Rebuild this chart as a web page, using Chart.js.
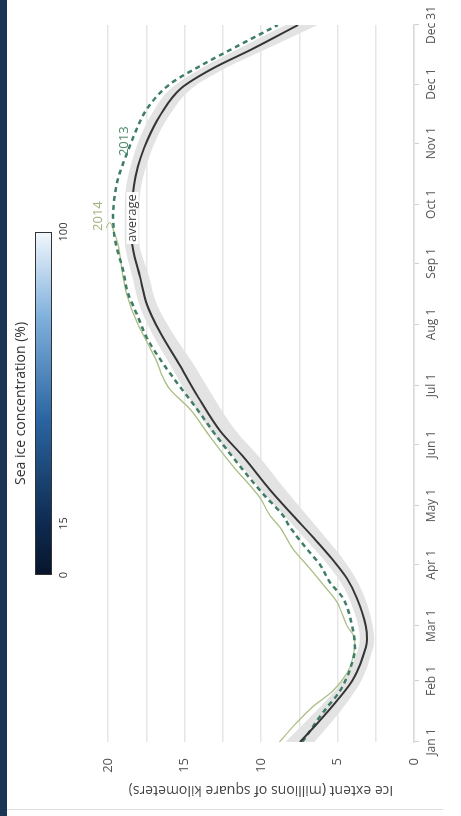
<!DOCTYPE html>
<html>
<head>
<meta charset="utf-8">
<script src="https://cdn.jsdelivr.net/npm/chart.js@4.4.1/dist/chart.umd.min.js"></script>
<style>
  html,body{margin:0;padding:0;background:#fff;overflow:hidden;width:461px;height:816px;}
  #wrap{position:absolute;left:0;top:0;width:816px;height:461px;transform-origin:0 0;transform:translate(0px,816px) rotate(-90deg);}
  #strip{position:absolute;left:0;top:0;width:7px;height:816px;background:#1c3556;}
  #bline{position:absolute;left:7px;top:809px;width:436px;height:1px;background:#dedede;}
</style>
</head>
<body>
<div id="wrap"><canvas id="c" width="816" height="461"></canvas></div>
<div id="strip"></div>
<div id="bline"></div>
<script>
// ---- data (day of year, millions of km²) ----
const monthDays   = [0, 31, 59, 90, 120, 151, 181, 212, 243, 273, 304, 334, 364];
const monthLabels = ['Jan 1','Feb 1','Mar 1','Apr 1','May 1','Jun 1','Jul 1','Aug 1','Sep 1','Oct 1','Nov 1','Dec 1','Dec 31'];

const avgDays = [0, 11, 21, 31, 42, 52, 59, 73, 83, 93, 104, 115, 128, 145, 158, 175, 191, 208, 222, 236, 255, 272, 287, 297, 306, 318, 332, 342, 352, 364];
const avgVals = [7.45, 6.14, 5.03, 4.05, 3.40, 3.07, 3.15, 3.73, 4.38, 5.36, 6.60, 7.91, 9.41, 11.18, 12.68, 14.1, 15.29, 16.6, 17.45, 17.9, 18.43, 18.43, 18.2, 17.85, 17.4, 16.6, 15.2, 13.14, 10.52, 7.58];
const bandLo  = [6.5, 5.3, 4.3, 3.45, 2.9, 2.6, 2.7, 3.2, 3.8, 4.65, 5.8, 7.0, 8.4, 10.15, 11.65, 13.1, 14.35, 15.8, 16.8, 17.3, 17.95, 17.95, 17.7, 17.3, 16.85, 16.0, 14.5, 12.35, 9.6, 6.3];
const bandHi  = [8.4, 7.0, 5.75, 4.65, 3.9, 3.55, 3.65, 4.25, 4.95, 5.95, 7.2, 8.5, 10.0, 11.8, 13.3, 14.7, 15.9, 17.15, 17.95, 18.4, 18.9, 18.9, 18.7, 18.35, 17.95, 17.2, 15.85, 13.9, 11.45, 8.4];

const days2013 = [0, 15, 26, 37, 48, 59, 73, 81, 90, 98, 109, 115, 126, 140, 155, 169, 179, 191, 205, 217, 228, 239, 255, 266, 284, 294, 302, 308, 322, 334, 344, 354, 364];
const vals2013 = [7.3, 5.95, 4.84, 4.18, 3.86, 4.05, 4.64, 5.49, 6.14, 7.0, 8.1, 8.56, 9.87, 11.37, 12.88, 14.18, 15.16, 16.3, 17.45, 18.1, 18.7, 19.0, 19.54, 19.67, 19.41, 19.0, 18.6, 18.3, 17.4, 15.95, 13.79, 11.37, 8.9];

const days2014 = [0, 10, 18, 26, 35, 43, 52, 59, 71, 80, 88, 98, 109, 115, 124, 140, 155, 169, 179, 185, 193, 203, 213, 227, 239, 253, 262];
const vals2014 = [8.8, 7.65, 6.6, 5.29, 4.38, 3.99, 3.86, 4.38, 5.03, 5.95, 6.8, 7.91, 8.76, 9.41, 10.07, 11.83, 13.33, 14.64, 15.95, 16.4, 16.8, 17.45, 18.1, 18.76, 19.08, 19.35, 19.75];

const annoLabels = ['2014', '2013', 'average'];
const annoDays   = [267, 305, 266];
const annoVals   = [20.65, 18.95, 18.4];
const annoColors = ['#9fb47c', '#4e8a6c', '#444444'];

const cbTicks = [0, 15, 100];
const cbTitle = 'Sea ice concentration (%)';

function pts(xs, ys){ return xs.map((x,i)=>({x:x, y:ys[i]})); }

const FONT = "'Open Sans', 'Noto Sans', sans-serif";

const colorbarPlugin = {
  id: 'colorbar',
  afterDraw(chart){
    const ctx = chart.ctx;
    const x0 = 241, x1 = 584, y0 = 35, y1 = 52;
    ctx.save();
    const g = ctx.createLinearGradient(x0, 0, x1, 0);
    g.addColorStop(0.00, '#07152b');
    g.addColorStop(0.15, '#0e2a50');
    g.addColorStop(0.45, '#2a64a0');
    g.addColorStop(0.75, '#7fb0dc');
    g.addColorStop(1.00, '#f2f7fd');
    ctx.fillStyle = g;
    ctx.fillRect(x0, y0, x1 - x0, y1 - y0);
    ctx.strokeStyle = '#333';
    ctx.lineWidth = 1;
    ctx.strokeRect(x0 + 0.5, y0 + 0.5, x1 - x0 - 1, y1 - y0 - 1);
    ctx.fillStyle = '#333';
    ctx.font = '11px ' + FONT;
    ctx.textAlign = 'center';
    ctx.textBaseline = 'middle';
    cbTicks.forEach(t => {
      const px = x0 + (x1 - x0) * t / 100;
      ctx.fillText(String(t), px, 64);
    });
    ctx.font = '14px ' + FONT;
    ctx.fillText(cbTitle, (x0 + x1) / 2, 21);
    ctx.restore();
  }
};

const annoPlugin = {
  id: 'anno',
  afterDatasetsDraw(chart){
    const ctx = chart.ctx;
    const xs = chart.scales.x, ys = chart.scales.y;
    ctx.save();
    ctx.font = '13px ' + FONT;
    ctx.textAlign = 'center';
    ctx.textBaseline = 'middle';
    annoLabels.forEach((t, i) => {
      const px = xs.getPixelForValue(annoDays[i]);
      const py = ys.getPixelForValue(annoVals[i]);
      if (t === 'average') {
        const w = ctx.measureText(t).width;
        ctx.fillStyle = '#ffffff';
        ctx.fillRect(px - w/2 - 2, py - 6, w + 4, 12);
      }
      ctx.fillStyle = annoColors[i];
      ctx.fillText(t, px, py);
    });
    const ex = xs.getPixelForValue(days2014[days2014.length-1]);
    const ey = ys.getPixelForValue(vals2014[vals2014.length-1]);
    const lx = xs.getPixelForValue(annoDays[0]);
    const ly = ys.getPixelForValue(annoVals[0]) + 8;
    ctx.strokeStyle = '#9fb47c';
    ctx.lineWidth = 1;
    ctx.beginPath();
    ctx.moveTo(lx - 12, ly);
    ctx.quadraticCurveTo(lx - 2, ly + 4, ex, ey);
    ctx.stroke();
    ctx.restore();
  }
};

new Chart(document.getElementById('c'), {
  type: 'line',
  data: {
    datasets: [
      { label: 'average', data: pts(avgDays, avgVals), borderColor: '#353535', borderWidth: 2, pointRadius: 0, fill: false, cubicInterpolationMode: 'monotone', order: 0 },
      { label: '2013', data: pts(days2013, vals2013), borderColor: '#3f7d66', borderWidth: 2.5, borderDash: [5, 4], pointRadius: 0, fill: false, cubicInterpolationMode: 'monotone', order: 1 },
      { label: '2014', data: pts(days2014, vals2014), borderColor: '#a9bf86', borderWidth: 1.3, pointRadius: 0, fill: false, cubicInterpolationMode: 'monotone', order: 2 },
      { label: 'lo', data: pts(avgDays, bandLo), borderWidth: 0, borderColor: 'rgba(0,0,0,0)', pointRadius: 0, fill: false, cubicInterpolationMode: 'monotone', order: 4 },
      { label: 'hi', data: pts(avgDays, bandHi), borderWidth: 0, borderColor: 'rgba(0,0,0,0)', backgroundColor: '#e3e3e3', pointRadius: 0, fill: 3, cubicInterpolationMode: 'monotone', order: 3 }
    ]
  },
  options: {
    responsive: false,
    animation: false,
    events: [],
    layout: { padding: { left: 10, right: 25, top: 108, bottom: 0 } },
    plugins: { legend: { display: false }, tooltip: { enabled: false } },
    scales: {
      x: {
        type: 'linear', min: 0, max: 364,
        afterFit(s){ s.height = 47; },
        afterBuildTicks(s){ s.ticks = monthDays.map(v => ({ value: v })); },
        grid: { drawOnChartArea: false, drawTicks: true, tickLength: 5, color: '#cfcfcf', lineWidth: 1 },
        border: { display: true, color: '#dadada', width: 1.5 },
        ticks: {
          autoSkip: false, maxRotation: 0, padding: 5, color: '#555',
          font: { family: FONT, size: 12 },
          callback(v){ const i = monthDays.indexOf(v); return i >= 0 ? monthLabels[i] : ''; }
        }
      },
      y: {
        min: 0, max: 20,
        afterFit(s){ s.width = 64; },
        grid: { drawTicks: false, color: '#e6e6e6', lineWidth: 1.5 },
        border: { display: false },
        ticks: {
          stepSize: 2.5, padding: 16, color: '#555',
          font: { family: FONT, size: 13 },
          callback(v){ return (v % 5 === 0) ? String(v) : ''; }
        },
        title: {
          display: true, text: 'Ice extent (millions of square kilometers)',
          color: '#444', font: { family: FONT, size: 14 }, padding: { top: 8, bottom: 0 }
        }
      }
    }
  },
  plugins: [colorbarPlugin, annoPlugin]
});
</script>
</body>
</html>
